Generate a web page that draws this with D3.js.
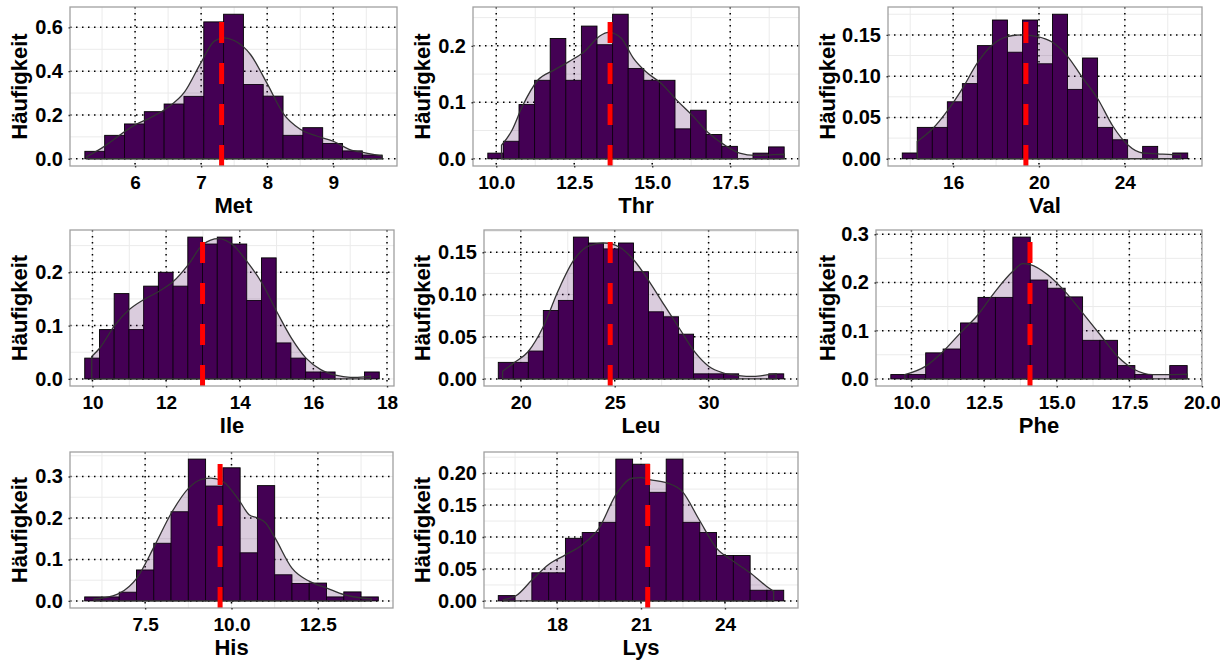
<!DOCTYPE html>
<html>
<head>
<meta charset="utf-8">
<script src="https://cdn.jsdelivr.net/npm/d3@7"></script>
<style>
    body { margin: 0; background: #fff; }
    text { font-family: "Liberation Sans", Arial, sans-serif; font-weight: bold; fill: #000; }
    .tick line { stroke: #333; stroke-width: 1.4; stroke-dasharray: 1.5 2.5; }
</style>
</head>
<body>
<svg id="chart" width="1220" height="664"></svg>
<script>
    // values
    const aminoAcids = ["Met", "Thr", "Val", "Ile", "Leu", "Phe", "His", "Lys"];
    const binStarts = [5.24, 9.73, 13.63, 9.79, 18.8, 9.29, 5.75, 15.9];
    const binWidths = [0.3, 0.5, 0.7, 0.4, 0.8, 0.6, 0.5, 0.6];
    const binHeights = [
        [0.034, 0.107, 0.159, 0.215, 0.25, 0.285, 0.625, 0.66, 0.339, 0.286, 0.107, 0.142, 0.07, 0.036, 0.017],
        [0.01, 0.031, 0.096, 0.139, 0.213, 0.139, 0.235, 0.202, 0.256, 0.16, 0.139, 0.139, 0.053, 0.086, 0.043, 0.022, 0, 0.01, 0.021],
        [0.007, 0.038, 0.038, 0.069, 0.091, 0.137, 0.168, 0.129, 0.168, 0.115, 0.175, 0.084, 0.122, 0.038, 0.023, 0, 0.015, 0, 0.007],
        [0.039, 0.0925, 0.16, 0.0925, 0.174, 0.2, 0.174, 0.266, 0.253, 0.266, 0.253, 0.147, 0.227, 0.0675, 0.039, 0.013, 0.013, 0, 0, 0.013],
        [0.0196, 0.0196, 0.033, 0.081, 0.093, 0.168, 0.161, 0.154, 0.161, 0.127, 0.0795, 0.0736, 0.053, 0.006, 0.006, 0.006, 0, 0, 0.006],
        [0.009, 0.009, 0.054, 0.062, 0.116, 0.169, 0.169, 0.294, 0.205, 0.188, 0.17, 0.08, 0.08, 0.0276, 0.009, 0, 0.0276],
        [0.0096, 0.0096, 0.021, 0.0746, 0.139, 0.215, 0.342, 0.277, 0.321, 0.116, 0.278, 0.063, 0.042, 0.043, 0.0096, 0.0217, 0.0096],
        [0.0083, 0, 0.044, 0.044, 0.098, 0.107, 0.123, 0.222, 0.214, 0.17, 0.222, 0.123, 0.107, 0.071, 0.071, 0.0167, 0.0167]
    ];
    const meanValues = [7.31, 13.65, 19.39, 12.99, 24.76, 14.08, 9.67, 21.24];
    const densityX = [
        [5.27, 5.5, 6.0, 6.25, 6.5, 6.75, 7.0, 7.2, 7.35, 7.5, 7.75, 8.0, 8.25, 8.5, 8.75, 9.0, 9.25, 9.5, 9.74],
        [10.17, 10.5, 10.83, 11.33, 11.85, 12.33, 12.83, 13.33, 13.6, 14.0, 14.4, 14.8, 15.3, 15.8, 16.3, 16.8, 17.3, 17.8, 18.3, 18.8, 19.23],
        [14.33, 15.03, 15.73, 16.43, 17.13, 17.83, 18.53, 19.23, 19.93, 20.63, 21.33, 22.03, 22.73, 23.43, 24.13, 24.83, 25.53, 26.23, 26.6],
        [9.98, 10.2, 10.6, 11.0, 11.4, 11.8, 12.2, 12.6, 13.0, 13.42, 13.8, 14.2, 14.6, 15.0, 15.4, 15.8, 16.2, 16.6, 17.0, 17.4, 17.55],
        [19.03, 19.63, 20.4, 21.2, 22.0, 22.8, 23.66, 24.46, 25.26, 26.05, 26.85, 27.65, 28.44, 29.24, 30.0, 30.8, 31.6, 32.4, 33.2, 33.6],
        [9.77, 10.48, 11.09, 11.68, 12.29, 12.88, 13.49, 13.83, 14.09, 14.69, 15.29, 15.89, 16.49, 17.09, 17.69, 18.29, 18.88, 19.49],
        [6.02, 6.26, 6.75, 7.26, 7.76, 8.26, 8.76, 9.13, 9.4, 9.75, 10.24, 10.51, 10.75, 10.99, 11.26, 11.75, 12.26, 12.76, 13.26, 13.76, 14.05],
        [16.08, 16.53, 17.11, 17.7, 18.3, 18.9, 19.5, 20.1, 20.68, 21.0, 21.3, 21.9, 22.48, 23.08, 23.69, 24.3, 24.9, 25.48, 25.74]
    ];
    const densityY = [
        [0.01, 0.05, 0.155, 0.19, 0.235, 0.305, 0.44, 0.537, 0.552, 0.54, 0.475, 0.343, 0.204, 0.135, 0.104, 0.08, 0.042, 0.026, 0.012],
        [0.024, 0.05, 0.092, 0.139, 0.157, 0.172, 0.19, 0.218, 0.224, 0.214, 0.178, 0.154, 0.133, 0.103, 0.076, 0.046, 0.025, 0.01, 0.006, 0.007, 0.008],
        [0.021, 0.036, 0.058, 0.085, 0.116, 0.138, 0.148, 0.15, 0.148, 0.141, 0.124, 0.098, 0.073, 0.04, 0.017, 0.007, 0.006, 0.005, 0.005],
        [0.042, 0.058, 0.1, 0.13, 0.149, 0.164, 0.183, 0.214, 0.252, 0.263, 0.252, 0.22, 0.18, 0.127, 0.077, 0.039, 0.0175, 0.007, 0.003, 0.004, 0.005],
        [0.009, 0.019, 0.0325, 0.062, 0.105, 0.14, 0.158, 0.161, 0.156, 0.14, 0.115, 0.087, 0.06, 0.0325, 0.015, 0.007, 0.004, 0.003, 0.005, 0.006],
        [0.009, 0.026, 0.057, 0.095, 0.133, 0.181, 0.223, 0.239, 0.237, 0.216, 0.181, 0.137, 0.092, 0.047, 0.019, 0.009, 0.009, 0.01],
        [0.005, 0.007, 0.018, 0.055, 0.131, 0.212, 0.272, 0.293, 0.296, 0.288, 0.24, 0.208, 0.2, 0.188, 0.152, 0.079, 0.047, 0.031, 0.015, 0.007, 0.005],
        [0.002, 0.008, 0.033, 0.057, 0.072, 0.088, 0.114, 0.166, 0.192, 0.193, 0.19, 0.185, 0.171, 0.127, 0.083, 0.062, 0.044, 0.023, 0.015]
    ];
    const xTickValues = [
        [6, 7, 8, 9], [10, 12.5, 15, 17.5], [16, 20, 24],
        [10, 12, 14, 16, 18], [20, 25, 30], [10, 12.5, 15, 17.5, 20],
        [7.5, 10, 12.5], [18, 21, 24]
    ];
    const xTickFormats = ["d", ".1f", "d", "d", "d", ".1f", ".1f", "d"];
    const yTickValues = [
        [0, 0.2, 0.4, 0.6], [0, 0.1, 0.2], [0, 0.05, 0.1, 0.15],
        [0, 0.1, 0.2], [0, 0.05, 0.1, 0.15], [0, 0.1, 0.2, 0.3],
        [0, 0.1, 0.2, 0.3], [0, 0.05, 0.1, 0.15, 0.2]
    ];
    const yTickFormats = [".1f", ".1f", ".2f", ".1f", ".2f", ".1f", ".1f", ".2f"];
    const yLabel = "Häufigkeit";

    // layout of the 3x3 grid (last cell empty)
    const panelLeft = [70, 473, 888, 70, 484, 876, 70, 484];
    const panelRight = [397, 799, 1202, 394, 798, 1202, 393, 798];
    const rowTop = [7, 230, 452];
    const rowBottom = [166, 386, 608];
    const labelX = [27, 430, 835];

    const svg = d3.select("#chart");
    const barColor = "#440154";

    aminoAcids.forEach((name, i) => {
        const row = Math.floor(i / 3), col = i % 3;
        const top = rowTop[row], bottom = rowBottom[row];
        const left = panelLeft[i], right = panelRight[i];
        const bw = binWidths[i];
        const bins = binHeights[i].map((h, k) => ({ x0: binStarts[i] + k * bw, h: h }));
        const dens = densityX[i].map((x, k) => ({ x: x, y: densityY[i][k] }));

        // ggplot style 5% expansion
        const xMin = d3.min([binStarts[i], d3.min(densityX[i])]);
        const xMax = d3.max([binStarts[i] + bins.length * bw, d3.max(densityX[i])]);
        const yMax = d3.max([d3.max(binHeights[i]), d3.max(densityY[i])]);
        const xPad = (xMax - xMin) * 0.05, yPad = yMax * 0.05;

        const x = d3.scaleLinear().domain([xMin - xPad, xMax + xPad]).range([left, right]);
        const y = d3.scaleLinear().domain([-yPad, yMax + yPad]).range([bottom, top]);

        const g = svg.append("g");
        g.append("clipPath").attr("id", "clip" + i)
            .append("rect").attr("x", left).attr("y", top)
            .attr("width", right - left).attr("height", bottom - top);

        const plot = g.append("g").attr("clip-path", `url(#clip${i})`);

        // minor grid: midpoints between major ticks
        const xt = xTickValues[i], yt = yTickValues[i];
        const xStep = xt[1] - xt[0], yStep = yt[1] - yt[0];
        const xMinor = d3.range(xt[0] - xStep / 2, x.domain()[1], xStep).filter(v => v > x.domain()[0]);
        const yMinor = d3.range(yt[0] + yStep / 2, y.domain()[1], yStep);

        plot.selectAll(".gx").data(xMinor.concat(xt)).enter().append("line")
            .attr("x1", d => x(d)).attr("x2", d => x(d))
            .attr("y1", top).attr("y2", bottom)
            .attr("stroke", "#ebebeb").attr("stroke-width", 1);
        plot.selectAll(".gy").data(yMinor.concat(yt)).enter().append("line")
            .attr("y1", d => y(d)).attr("y2", d => y(d))
            .attr("x1", left).attr("x2", right)
            .attr("stroke", "#ebebeb").attr("stroke-width", 1);

        // major dotted grid
        plot.selectAll(".mx").data(xt).enter().append("line")
            .attr("x1", d => x(d)).attr("x2", d => x(d))
            .attr("y1", top).attr("y2", bottom)
            .attr("stroke", "#000").attr("stroke-width", 1.5)
            .attr("stroke-dasharray", "1.5 4.5");
        plot.selectAll(".my").data(yt).enter().append("line")
            .attr("y1", d => y(d)).attr("y2", d => y(d))
            .attr("x1", left).attr("x2", right)
            .attr("stroke", "#000").attr("stroke-width", 1.5)
            .attr("stroke-dasharray", "1.5 4.5");

        // histogram
        plot.selectAll(".bar").data(bins.filter(b => b.h > 0)).enter().append("rect")
            .attr("x", d => x(d.x0))
            .attr("width", x(bw) - x(0))
            .attr("y", d => y(d.h))
            .attr("height", d => y(0) - y(d.h))
            .attr("fill", barColor)
            .attr("stroke", "#000")
            .attr("stroke-width", 0.9);

        // density
        const area = d3.area()
            .x(d => x(d.x))
            .y0(y(0))
            .y1(d => y(d.y))
            .curve(d3.curveMonotoneX);
        plot.append("path").datum(dens)
            .attr("d", area)
            .attr("fill", barColor)
            .attr("fill-opacity", 0.2)
            .attr("stroke", "#333")
            .attr("stroke-width", 1.3);

        // mean line
        plot.append("line")
            .attr("x1", x(meanValues[i])).attr("x2", x(meanValues[i]))
            .attr("y1", bottom).attr("y2", top)
            .attr("stroke", "#ff0000")
            .attr("stroke-width", 5)
            .attr("stroke-dasharray", "21 20");

        // panel border
        g.append("rect")
            .attr("x", left).attr("y", top)
            .attr("width", right - left).attr("height", bottom - top)
            .attr("fill", "none").attr("stroke", "#a0a0a0").attr("stroke-width", 1.3);

        // axes
        const xAxis = g.append("g")
            .attr("transform", `translate(0,${bottom})`)
            .call(d3.axisBottom(x).tickValues(xt).tickFormat(d3.format(xTickFormats[i]))
                .tickSize(4).tickPadding(6));
        const yAxis = g.append("g")
            .attr("transform", `translate(${left},0)`)
            .call(d3.axisLeft(y).tickValues(yt).tickFormat(d3.format(yTickFormats[i]))
                .tickSize(4).tickPadding(3));
        xAxis.select(".domain").remove();
        yAxis.select(".domain").remove();
        xAxis.selectAll("text").style("font-size", "19px").attr("fill", "#000");
        yAxis.selectAll("text").style("font-size", "20px").attr("fill", "#000");

        // axis titles
        g.append("text")
            .attr("x", (left + right) / 2).attr("y", bottom + 47)
            .attr("text-anchor", "middle")
            .style("font-size", "22px")
            .text(name);
        g.append("text")
            .attr("transform", `translate(${labelX[col]},${(top + bottom) / 2}) rotate(-90)`)
            .attr("text-anchor", "middle")
            .style("font-size", "22px")
            .text(yLabel);
    });
</script>
</body>
</html>
